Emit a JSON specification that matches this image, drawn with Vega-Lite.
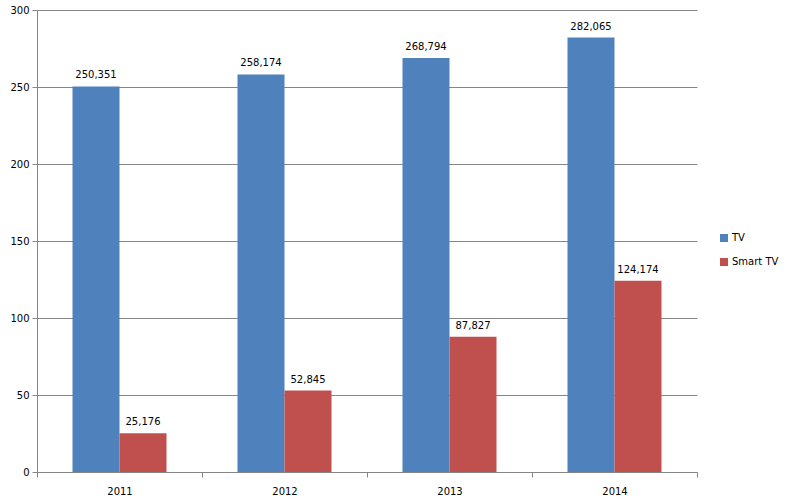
{
  "$schema": "https://vega.github.io/schema/vega-lite/v6.json",
  "width": 660,
  "height": 462,
  "autosize": "none",
  "padding": {"left": 37, "top": 10, "right": 95, "bottom": 29},
  "background": "white",
  "config": {
    "view": {"stroke": null},
    "font": "DejaVu Sans",
    "axis": {"labelFont": "DejaVu Sans", "labelFontSize": 10, "labelColor": "#000000"}
  },
  "data": {
    "values": [
      {"year": "2011", "series": "TV", "value": 250.351, "label": "250,351"},
      {"year": "2011", "series": "Smart TV", "value": 25.176, "label": "25,176"},
      {"year": "2012", "series": "TV", "value": 258.174, "label": "258,174"},
      {"year": "2012", "series": "Smart TV", "value": 52.845, "label": "52,845"},
      {"year": "2013", "series": "TV", "value": 268.794, "label": "268,794"},
      {"year": "2013", "series": "Smart TV", "value": 87.827, "label": "87,827"},
      {"year": "2014", "series": "TV", "value": 282.065, "label": "282,065"},
      {"year": "2014", "series": "Smart TV", "value": 124.174, "label": "124,174"}
    ]
  },
  "encoding": {
    "x": {
      "field": "year", "type": "nominal",
      "scale": {"paddingInner": 0, "paddingOuter": 0},
      "axis": {"title": null, "labelAngle": 0, "domainColor": "#868686", "tickColor": "#868686", "tickSize": 5, "tickBand": "extent", "labelPadding": 9}
    },
    "xOffset": {"field": "series", "type": "nominal", "sort": ["TV", "Smart TV"], "scale": {"paddingInner": 0, "paddingOuter": 0.755}},
    "y": {
      "field": "value", "type": "quantitative",
      "scale": {"domain": [0, 300], "nice": false},
      "axis": {"title": null, "values": [0, 50, 100, 150, 200, 250, 300], "grid": true, "gridColor": "#868686", "domainColor": "#868686", "tickColor": "#868686", "tickSize": 5, "labelPadding": 3}
    }
  },
  "layer": [
    {
      "mark": {"type": "bar"},
      "encoding": {
        "color": {
          "field": "series", "type": "nominal", "sort": ["TV", "Smart TV"],
          "scale": {"domain": ["TV", "Smart TV"], "range": ["#4F81BD", "#C0504D"]},
          "legend": {
            "title": null, "orient": "none", "legendX": 682, "legendY": 223,
            "symbolType": "square", "symbolSize": 64, "symbolStrokeWidth": 0,
            "labelFont": "DejaVu Sans", "labelFontSize": 10, "rowPadding": 14, "labelOffset": 3
          }
        }
      }
    },
    {
      "mark": {"type": "text", "baseline": "bottom", "dy": -6, "font": "DejaVu Sans", "fontSize": 10, "color": "#000000"},
      "encoding": {"text": {"field": "label"}}
    }
  ]
}
